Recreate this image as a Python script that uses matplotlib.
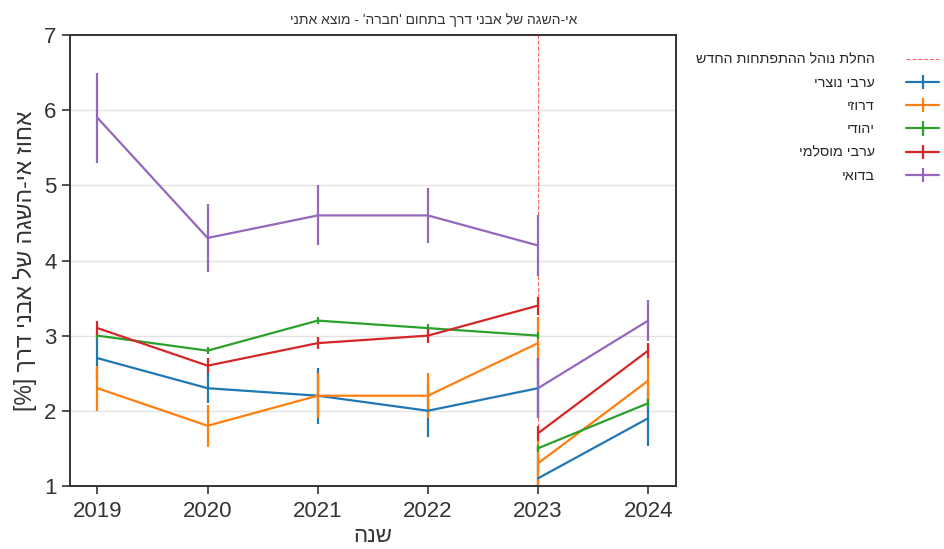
import matplotlib
matplotlib.use("Agg")
import matplotlib.pyplot as plt
import seaborn as sns

sns.set_style("ticks")
plt.rcParams['font.family'] = ['Liberation Sans', 'DejaVu Sans']


def rtl(s):
    # matplotlib has no bidi support: show Hebrew in visual order
    swap = {'[': ']', ']': '[', '(': ')', ')': '('}
    return ''.join(swap.get(c, c) for c in s[::-1])


years_before = [2019, 2020, 2021, 2022, 2023]
years_after = [2023, 2024]

groups = ['ערבי נוצרי', 'דרוזי', 'יהודי', 'ערבי מוסלמי', 'בדואי']
colors = ['#1f77b4', '#ff7f0e', '#2ca02c', '#d62728', '#9467bd']

vals_before = [
    [2.7, 2.3, 2.2, 2.0, 2.3],
    [2.3, 1.8, 2.2, 2.2, 2.9],
    [3.0, 2.8, 3.2, 3.1, 3.0],
    [3.1, 2.6, 2.9, 3.0, 3.4],
    [5.9, 4.3, 4.6, 4.6, 4.2],
]
err_before = [
    [0.3, 0.2, 0.37, 0.35, 0.4],
    [0.3, 0.28, 0.3, 0.3, 0.35],
    [0.05, 0.05, 0.05, 0.05, 0.05],
    [0.1, 0.1, 0.08, 0.1, 0.12],
    [0.6, 0.45, 0.4, 0.37, 0.4],
]
vals_after = [
    [1.1, 1.9],
    [1.3, 2.4],
    [1.5, 2.1],
    [1.7, 2.8],
    [2.3, 3.2],
]
err_after = [
    [0.4, 0.37],
    [0.3, 0.3],
    [0.05, 0.05],
    [0.1, 0.1],
    [0.4, 0.27],
]

title = "אי-השגה של אבני דרך בתחום 'חברה' - מוצא אתני"
ylabel = "אחוז אי-השגה של אבני דרך [%]"
xlabel = "שנה"
vline_label = "החלת נוהל ההתפתחות החדש"
vline_year = 2023

fig = plt.figure(figsize=(9.45, 5.49), dpi=100)
ax = fig.add_axes([0.074, 0.115, 0.641, 0.821])

ax.axvline(vline_year, color='red', linestyle='--', linewidth=0.8, alpha=0.6,
           label=rtl(vline_label))

for i, g in enumerate(groups):
    ax.errorbar(years_before, vals_before[i], yerr=err_before[i], color=colors[i],
                linewidth=1.6, elinewidth=1.6, label=rtl(g))
    ax.errorbar(years_after, vals_after[i], yerr=err_after[i], color=colors[i],
                linewidth=1.6, elinewidth=1.6)

ax.set_ylim(1, 7)
ax.set_xlim(2018.75, 2024.25)
ax.set_xticks(years_before + [2024])
ax.yaxis.grid(True, color='#e3e3e3', linewidth=1)
ax.set_axisbelow(True)
for sp in ax.spines.values():
    sp.set_color('#333333')
    sp.set_linewidth(1.4)
ax.tick_params(labelsize=16, colors='#333333', length=6, width=1.2)
ax.tick_params(axis='x', pad=5)

ax.set_title(rtl(title), fontsize=10, color='#333333', x=0.6, pad=8)
ax.set_xlabel(rtl(xlabel), fontsize=16, color='#333333', labelpad=3)
ax.set_ylabel(rtl(ylabel), fontsize=16.5, color='#333333', labelpad=5)

ax.legend(loc='upper left', bbox_to_anchor=(1.012, 0.99), frameon=False,
          markerfirst=False, fontsize=10.3, labelspacing=0.65,
          handletextpad=2.2, handlelength=2.3)

fig.savefig('out.png', dpi=100)
